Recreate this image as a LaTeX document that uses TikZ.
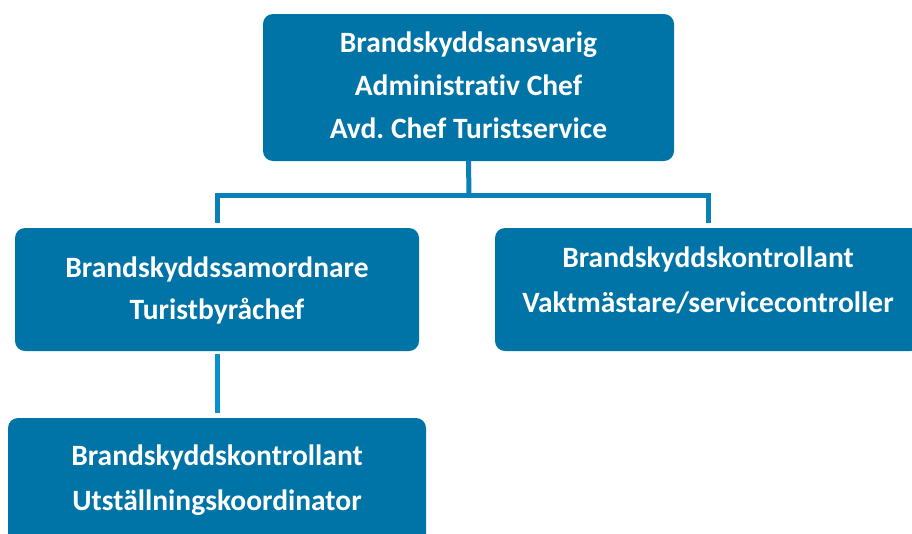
\documentclass[tikz,border=0pt]{standalone}
\usepackage{fontspec}
\setmainfont[Ligatures=NoCommon]{Carlito}
\frenchspacing
\definecolor{boxblue}{HTML}{0074A6}
\definecolor{lineblue}{HTML}{0A7FB8}
\definecolor{lineblue2}{HTML}{078FCE}
\begin{document}
\begin{tikzpicture}[x=1pt,y=-1pt,
  orgbox/.style={fill=boxblue, draw=none, rounded corners=10pt, inner sep=0pt},
  lbl/.style={text=white, font=\fontsize{29.5}{#1}\selectfont\bfseries\frenchspacing, align=center, inner sep=0pt, anchor=base},
  conn/.style={draw=lineblue, line width=5pt},
  conn2/.style={draw=lineblue2, line width=5pt}]
\useasboundingbox (0,0) rectangle (912,533);
\clip (0,0) rectangle (912,533);
% boxes
\node[orgbox, minimum width=411pt, minimum height=147pt] (top) at (468.5,87.5) {};
\node[orgbox, minimum width=404pt, minimum height=123pt] (left) at (217,289.5) {};
\node[orgbox, minimum width=426pt, minimum height=123pt] (right) at (708,289.5) {};
\node[orgbox, minimum width=418pt, minimum height=130pt] (bottom) at (217,483) {};
% labels (anchor = baseline of last line)
\node[lbl=43] (ttop) at (468.5,138) {Brandskyddsansvarig\\Administrativ Chef\\Avd. Chef Turistservice};
\node[lbl=42] (tleft) at (217,319) {Brandskyddssamordnare\\Turistbyråchef};
\node[lbl=45] (tright) at (708,312) {Brandskyddskontrollant\\Vaktmästare/servicecontroller};
\node[lbl=45] (tbottom) at (217,510) {Brandskyddskontrollant\\Utställningskoordinator};
% connectors
\coordinate (j) at (469,195);
\draw[conn] (top.south) -- (j);
\draw[conn] ([yshift=5pt]left.north) |- (j) -| ([yshift=5pt]right.north);
\draw[conn2] ([yshift=-3pt]left.south) -- ([yshift=5pt]bottom.north);
\end{tikzpicture}
\end{document}
